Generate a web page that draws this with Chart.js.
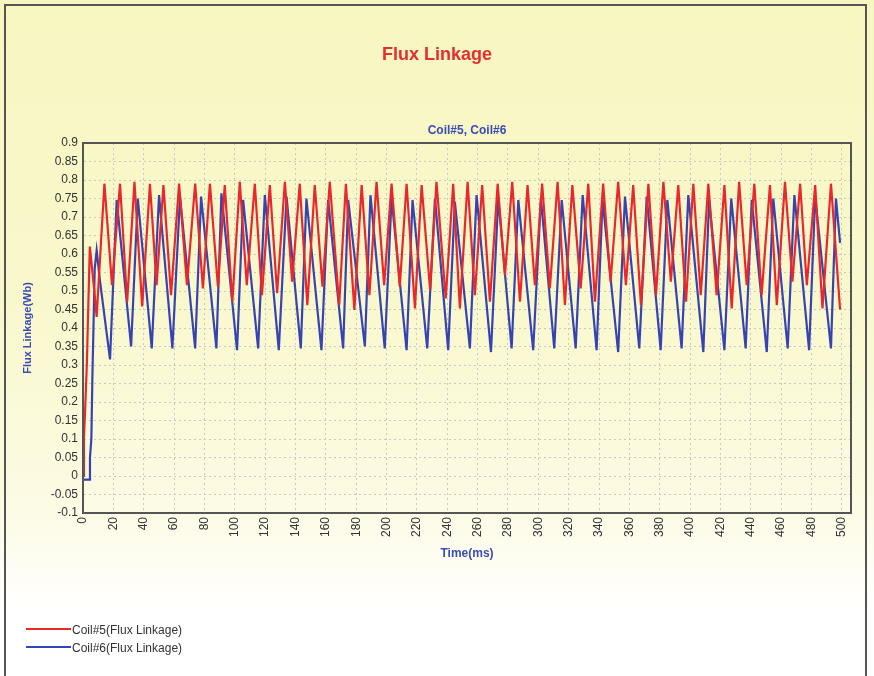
<!DOCTYPE html>
<html><head><meta charset="utf-8">
<script src="https://cdn.jsdelivr.net/npm/chart.js@4.4.1/dist/chart.umd.min.js"></script>
<style>html,body{margin:0;padding:0;background:#fff}#wrap{width:874px;height:676px;position:relative}canvas{display:block}</style>
</head><body><div id="wrap"><canvas id="c" width="874" height="676"></canvas></div>
<script>
const chartTitle = 'Flux Linkage';
const chartSubtitle = 'Coil#5, Coil#6';
const xAxisTitle = 'Time(ms)';
const yAxisTitle = 'Flux Linkage(Wb)';
const seriesNames = ['Coil#5(Flux Linkage)', 'Coil#6(Flux Linkage)'];

const xTickValues = [0,20,40,60,80,100,120,140,160,180,200,220,240,260,280,300,320,340,360,380,400,420,440,460,480,500];
const xTickLabels = ['0','20','40','60','80','100','120','140','160','180','200','220','240','260','280','300','320','340','360','380','400','420','440','460','480','500'];
const yTickValues = [-0.1,-0.05,0,0.05,0.1,0.15,0.2,0.25,0.3,0.35,0.4,0.45,0.5,0.55,0.6,0.65,0.7,0.75,0.8,0.85,0.9];
const yTickLabels = ['-0.1','-0.05','0','0.05','0.1','0.15','0.2','0.25','0.3','0.35','0.4','0.45','0.5','0.55','0.6','0.65','0.7','0.75','0.8','0.85','0.9'];

// Coil#5 (red)
const coil5StartTime = [0, 0.6, 1.6, 2.6, 3.3, 4.5, 6.0, 7.7, 9.0];
const coil5StartFlux = [0.0, 0.1, 0.2, 0.31, 0.43, 0.62, 0.56, 0.49, 0.43];
const coil5PeakTime = [14.1,24.4,33.9,44.1,53.0,63.3,73.9,83.6,93.4,103.3,113.2,123.1,133.0,142.8,152.7,162.6,173.2,183.6,193.4,203.3,213.2,223.1,232.9,243.9,253.4,263.0,273.2,282.8,292.9,302.5,312.7,322.4,332.9,342.7,352.6,362.5,372.5,382.4,392.2,402.1,412.0,422.6,432.3,442.3,452.6,462.5,472.5,482.4,492.8];
const coil5PeakFlux = [0.79,0.79,0.795,0.79,0.786,0.79,0.79,0.79,0.786,0.795,0.79,0.786,0.795,0.79,0.786,0.795,0.79,0.786,0.795,0.79,0.79,0.786,0.795,0.79,0.795,0.786,0.79,0.795,0.786,0.79,0.795,0.786,0.79,0.79,0.795,0.786,0.79,0.795,0.786,0.79,0.79,0.786,0.795,0.79,0.786,0.795,0.79,0.786,0.79];
const coil5TroughTime = [19.1,29.1,39.0,48.5,58.0,68.5,79.0,88.9,98.4,107.9,117.9,127.9,137.8,147.8,157.8,168.8,178.8,188.7,198.4,208.7,218.7,228.7,239.0,248.3,258.2,268.1,278.0,287.9,297.7,307.6,317.5,327.9,337.3,347.6,357.7,367.6,377.5,387.3,397.3,407.0,417.5,427.4,437.3,447.1,457.1,467.4,476.9,487.2];
const coil5TroughFlux = [0.516,0.471,0.458,0.516,0.489,0.516,0.507,0.512,0.471,0.516,0.489,0.494,0.525,0.462,0.512,0.462,0.449,0.489,0.516,0.512,0.453,0.503,0.48,0.453,0.489,0.471,0.543,0.471,0.516,0.507,0.462,0.507,0.471,0.525,0.516,0.462,0.489,0.525,0.471,0.489,0.489,0.453,0.516,0.489,0.462,0.525,0.516,0.453];
const coil5EndTime = [498.8];
const coil5EndFlux = [0.45];

// Coil#6 (blue)
const coil6StartTime = [0, 4.0, 4.6, 5.5, 6.2, 7.1, 7.7, 9.0, 11.1];
const coil6StartFlux = [-0.01, -0.01, 0.05, 0.1, 0.27, 0.44, 0.56, 0.61, 0.53];
const coil6PeakTime = [22.2,36.1,50.1,63.9,77.8,91.2,105.5,119.8,134.1,147.2,161.5,174.7,189.4,203.3,217.1,231.9,245.0,259.3,273.6,286.8,301.7,315.4,329.2,342.3,357.1,371.4,385.0,398.8,412.5,427.1,440.6,454.8,468.7,482.4,496.1];
const coil6PeakFlux = [0.746,0.75,0.759,0.755,0.755,0.764,0.746,0.759,0.755,0.75,0.746,0.746,0.759,0.75,0.746,0.75,0.741,0.759,0.75,0.746,0.75,0.746,0.759,0.746,0.755,0.755,0.746,0.759,0.746,0.75,0.746,0.75,0.759,0.755,0.75];
const coil6TroughTime = [17.8,31.7,45.3,58.9,73.9,87.9,101.5,115.4,129.0,143.5,157.1,171.4,185.7,198.8,213.2,226.8,240.6,254.9,268.8,282.4,296.6,310.5,324.6,338.4,352.6,366.5,380.6,394.4,408.7,422.6,436.6,450.5,464.3,478.4,492.8];
const coil6TroughFlux = [0.315,0.35,0.345,0.345,0.345,0.345,0.34,0.345,0.34,0.345,0.34,0.345,0.35,0.345,0.34,0.345,0.34,0.345,0.335,0.345,0.34,0.345,0.345,0.34,0.335,0.345,0.34,0.345,0.335,0.34,0.345,0.335,0.345,0.34,0.345];
const coil6EndTime = [498.8];
const coil6EndFlux = [0.63];

function buildPoints(pairs) {
  const pts = [];
  pairs.forEach(([ts, vs]) => ts.forEach((t, i) => pts.push({x: t, y: vs[i]})));
  pts.sort((a, b) => a.x - b.x);
  return pts;
}
const coil5Points = buildPoints([[coil5StartTime, coil5StartFlux],[coil5PeakTime, coil5PeakFlux],[coil5TroughTime, coil5TroughFlux],[coil5EndTime, coil5EndFlux]]);
const coil6Points = buildPoints([[coil6StartTime, coil6StartFlux],[coil6PeakTime, coil6PeakFlux],[coil6TroughTime, coil6TroughFlux],[coil6EndTime, coil6EndFlux]]);

const FONT = 'Arial, "Liberation Sans", sans-serif';
Chart.defaults.font.family = FONT;

const decorPlugin = {
  id: 'decor',
  beforeDraw(chart) {
    const {ctx, width, height} = chart;
    ctx.save();
    const g = ctx.createLinearGradient(0, 0, 0, height);
    g.addColorStop(0, '#f8f6c0');
    g.addColorStop(0.45, '#f9f8cd');
    g.addColorStop(0.75, '#fcfbe4');
    g.addColorStop(0.9, '#ffffff');
    ctx.fillStyle = g;
    ctx.fillRect(0, 0, width, height);
    ctx.strokeStyle = '#555555';
    ctx.lineWidth = 2;
    ctx.strokeRect(5, 5, 861, 700);
    ctx.restore();
  },
  afterDraw(chart) {
    const {ctx, chartArea: a} = chart;
    ctx.save();
    ctx.strokeStyle = '#555555';
    ctx.lineWidth = 2;
    ctx.strokeRect(Math.round(a.left), Math.round(a.top), Math.round(a.right - a.left), Math.round(a.bottom - a.top));
    // legend
    chart.data.datasets.forEach((ds, i) => {
      const y = 629 + i * 18;
      ctx.strokeStyle = ds.borderColor;
      ctx.lineWidth = 2;
      ctx.beginPath(); ctx.moveTo(26, y); ctx.lineTo(71, y); ctx.stroke();
      ctx.fillStyle = '#333333';
      ctx.font = '12px ' + FONT;
      ctx.textBaseline = 'middle';
      ctx.textAlign = 'left';
      ctx.fillText(ds.label, 72, y + 2);
    });
    ctx.restore();
  }
};

new Chart(document.getElementById('c'), {
  type: 'line',
  data: {
    datasets: [
      {label: seriesNames[0], data: coil5Points, borderColor: '#e8282c', borderWidth: 2.2, pointRadius: 0, tension: 0, fill: false},
      {label: seriesNames[1], data: coil6Points, borderColor: '#3544b2', borderWidth: 2.2, pointRadius: 0, tension: 0, fill: false}
    ]
  },
  options: {
    responsive: false,
    animation: false,
    events: [],
    layout: {padding: {left: 23, right: 23, top: 0, bottom: 113}},
    plugins: {
      legend: {display: false},
      tooltip: {enabled: false},
      title: {display: true, text: chartTitle, color: '#e62e2e', font: {size: 18, weight: 'bold'}, padding: {top: 44, bottom: 58}},
      subtitle: {display: true, fullSize: false, text: chartSubtitle, color: '#3b4bb5', font: {size: 12, weight: 'bold'}, padding: {top: 0, bottom: 5}}
    },
    scales: {
      x: {
        type: 'linear', min: 0, max: 506,
        afterBuildTicks: s => { s.ticks = xTickValues.map(v => ({value: v})); },
        afterFit: s => { s.height = 50; },
        ticks: {minRotation: 90, maxRotation: 90, autoSkip: false, color: '#333333', font: {size: 12}, padding: 4,
          callback: (v, i) => xTickLabels[i]},
        grid: {color: '#cacac4', drawTicks: false, lineWidth: 1},
        border: {display: true, color: '#555555', width: 1, dash: [2, 3]},
        title: {display: true, text: xAxisTitle, color: '#3b4bb5', font: {size: 12, weight: 'bold'}, padding: {top: 0, bottom: 2}}
      },
      y: {
        type: 'linear', min: -0.1, max: 0.9,
        afterBuildTicks: s => { s.ticks = yTickValues.map(v => ({value: v})); },
        afterFit: s => { s.width = 60; },
        ticks: {autoSkip: false, color: '#333333', font: {size: 12}, padding: 5,
          callback: (v, i) => yTickLabels[i]},
        grid: {color: '#cacac4', drawTicks: false, lineWidth: 1},
        border: {display: true, color: '#555555', width: 1, dash: [2, 3]},
        title: {display: true, text: yAxisTitle, color: '#3b4bb5', font: {size: 11, weight: 'bold'}, padding: {top: -2, bottom: 0}}
      }
    }
  },
  plugins: [decorPlugin]
});
</script>
</body></html>
